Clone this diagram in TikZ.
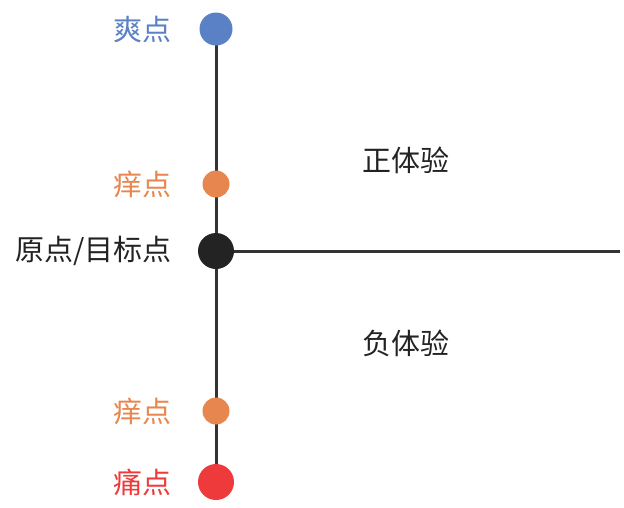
\documentclass[tikz,border=0pt]{standalone}
\usepackage{fontspec}
\usepackage{xcolor}
\newfontfamily\cjk{Noto Sans CJK SC}
\usetikzlibrary{positioning}
\definecolor{dotblue}{HTML}{5A80C6}
\definecolor{dotorange}{HTML}{E8864F}
\definecolor{dotred}{HTML}{EE3A3A}
\definecolor{dotblack}{HTML}{232323}
\definecolor{axisgray}{HTML}{333333}
\tikzset{
  dot/.style={circle, inner sep=0pt, minimum size=#1},
  lbl/.style={font=\cjk\fontsize{29}{29}\selectfont, anchor=east, inner sep=0pt},
  area/.style={font=\cjk\fontsize{29}{29}\selectfont, inner sep=0pt}
}

\begin{document}
\begin{tikzpicture}[x=1pt, y=-1pt]
  \useasboundingbox (0,0) rectangle (624,507);
  % axes
  \coordinate (top) at (216,28);
  \coordinate (bot) at (216,482);
  \coordinate (rend) at (620,251);
  \draw[axisgray, line width=3pt] (top) -- (bot);
  \draw[axisgray, line width=3pt] (216,251) -- (rend);
  % dots
  \node[dot=33pt, fill=dotblue] (shuang) at (216,29) {};
  \node[dot=27pt, fill=dotorange] (yang1) at (216,184) {};
  \node[dot=36pt, fill=dotblack] (origin) at (216,251) {};
  \node[dot=27pt, fill=dotorange] (yang2) at (216,411) {};
  \node[dot=36pt, fill=dotred] (tong) at (216,482) {};
  % labels
  \node[lbl, text=dotblue] at (172,29) {爽点};
  \node[lbl, text=dotorange] at (172,184) {痒点};
  \node[lbl, text=dotblack] at (172,251) {原点/目标点};
  \node[lbl, text=dotorange] at (172,411) {痒点};
  \node[lbl, text=dotred] at (172,482) {痛点};
  \node[area, text=dotblack] (zheng) at (406,160) {正体验};
  \node[area, text=dotblack] (fu) at (406,343) {负体验};
\end{tikzpicture}
\end{document}
